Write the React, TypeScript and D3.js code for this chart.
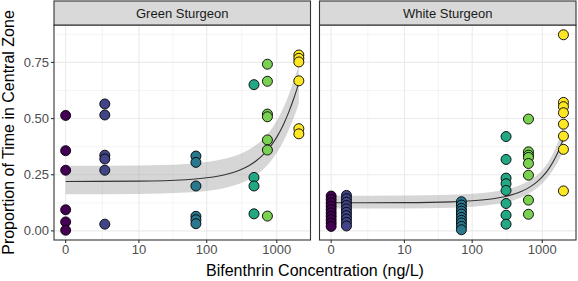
import React from "react";
import * as d3 from "d3";

const panelNames = ["Green Sturgeon", "White Sturgeon"];
const xTickValues = [0, 10, 100, 1000];
const yTickValues = [0, 0.25, 0.5, 0.75];
const yMinorValues = [0.125, 0.375, 0.625, 0.875];

const greenConcentrations = [0, 2.6, 70, 474, 736, 2060];
const greenProportions = [
  [0.514, 0.357, 0.27, 0.094, 0.04, 0.003],
  [0.565, 0.516, 0.337, 0.32, 0.27, 0.03],
  [0.333, 0.305, 0.2, 0.065, 0.05, 0.032],
  [0.651, 0.238, 0.2, 0.076],
  [0.742, 0.666, 0.52, 0.508, 0.405, 0.36, 0.066],
  [0.783, 0.768, 0.752, 0.668, 0.455, 0.432],
];
const whiteConcentrations = [0, 0.65, 70, 305, 636, 2000];
const whiteProportions = [
  [0.155, 0.14, 0.125, 0.11, 0.095, 0.08, 0.065, 0.05, 0.035, 0.02],
  [0.158, 0.143, 0.128, 0.113, 0.098, 0.083, 0.068, 0.053, 0.038, 0.022],
  [0.13, 0.115, 0.1, 0.088, 0.075, 0.06, 0.047, 0.035, 0.02, 0.005],
  [0.42, 0.318, 0.235, 0.21, 0.18, 0.122, 0.07, 0.03],
  [0.498, 0.352, 0.337, 0.327, 0.3, 0.248, 0.137, 0.074],
  [0.873, 0.572, 0.553, 0.526, 0.475, 0.422, 0.363, 0.178],
];

const greenFitConc = [0, 10, 50, 100, 200, 300, 400, 500, 600, 800, 1000, 1250, 1500, 1750, 2000, 2060];
const greenFit = [0.22, 0.2215, 0.228, 0.2363, 0.2536, 0.2716, 0.2904, 0.31, 0.3303, 0.3728, 0.4173, 0.4748, 0.533, 0.5903, 0.6452, 0.6579];
const greenLower = [0.163, 0.1644, 0.1704, 0.178, 0.194, 0.2108, 0.2285, 0.2469, 0.2661, 0.306, 0.3476, 0.4006, 0.4535, 0.5053, 0.5553, 0.567];
const greenUpper = [0.29, 0.2916, 0.2982, 0.3066, 0.3241, 0.3423, 0.3614, 0.3811, 0.4016, 0.4448, 0.4904, 0.55, 0.6108, 0.6701, 0.7259, 0.7386];

const whiteFitConc = [0, 10, 50, 100, 200, 300, 400, 500, 600, 800, 1000, 1250, 1500, 1750, 2000];
const whiteFit = [0.125, 0.1259, 0.1294, 0.1339, 0.1434, 0.1534, 0.164, 0.1752, 0.187, 0.2124, 0.2401, 0.2782, 0.3197, 0.3643, 0.4115];
const whiteLower = [0.0992, 0.1001, 0.1035, 0.108, 0.1173, 0.1273, 0.1378, 0.149, 0.1607, 0.1857, 0.2122, 0.2467, 0.2822, 0.3184, 0.3554];
const whiteUpper = [0.1563, 0.1572, 0.1606, 0.165, 0.1742, 0.1839, 0.1941, 0.205, 0.2165, 0.2417, 0.2705, 0.312, 0.3597, 0.4129, 0.4699];

const W = 578;
const H = 281;
const panelTop = 25;
const panelBottom = 240;
const stripTop = 1;
const panelLefts = [54, 319.5];
const panelWidth = 256.5;
const FONT = "'Liberation Sans', Arial, Helvetica, sans-serif";

const tr = (c: number) => Math.log10(c + 1);

export default function App() {
  const allConc = [...greenConcentrations, ...whiteConcentrations];
  const allProps = [...greenProportions.flat(), ...whiteProportions.flat()];
  const tMax = d3.max(allConc.map(tr)) as number;
  const tMin = 0;
  const xpad = (tMax - tMin) * 0.05;
  const yMaxV = d3.max(allProps) as number;
  const yMinV = d3.min(allProps) as number;
  const ypad = (yMaxV - yMinV) * 0.05;
  const y = d3.scaleLinear().domain([yMinV - ypad, yMaxV + ypad]).range([panelBottom, panelTop]);
  const color = (i: number) => d3.interpolateViridis(i / 5);

  const xTickT = xTickValues.map(tr);
  const xMinorT = xTickT.slice(0, -1).map((t, i) => (t + xTickT[i + 1]) / 2);

  const panels = [
    { conc: greenConcentrations, props: greenProportions, fc: greenFitConc, fit: greenFit, lo: greenLower, hi: greenUpper },
    { conc: whiteConcentrations, props: whiteProportions, fc: whiteFitConc, fit: whiteFit, lo: whiteLower, hi: whiteUpper },
  ];

  return (
    <div style={{ position: "absolute", left: 0, top: 0 }}>
      <svg width={W} height={H} style={{ display: "block", background: "#fff" }} fontFamily={FONT}>
        <rect x={0} y={0} width={W} height={H} fill="#fff" />
        {panels.map((p, pi) => {
          const x0 = panelLefts[pi];
          const x = d3.scaleLinear().domain([tMin - xpad, tMax + xpad]).range([x0, x0 + panelWidth]);
          const area = d3
            .area<number>()
            .x((_, i) => x(tr(p.fc[i])))
            .y0((_, i) => y(p.lo[i]))
            .y1((_, i) => y(p.hi[i]))
            .curve(d3.curveMonotoneX);
          const line = d3
            .line<number>()
            .x((_, i) => x(tr(p.fc[i])))
            .y((d) => y(d))
            .curve(d3.curveMonotoneX);
          const clipId = `clip${pi}`;
          return (
            <g key={pi}>
              <defs>
                <clipPath id={clipId}>
                  <rect x={x0} y={panelTop} width={panelWidth} height={panelBottom - panelTop} />
                </clipPath>
              </defs>
              <rect x={x0} y={panelTop} width={panelWidth} height={panelBottom - panelTop} fill="#fff" />
              {yMinorValues.map((v) => (
                <line key={"ym" + v} x1={x0} x2={x0 + panelWidth} y1={y(v)} y2={y(v)} stroke="#EBEBEB" strokeWidth={0.55} />
              ))}
              {xMinorT.map((t, i) => (
                <line key={"xm" + i} x1={x(t)} x2={x(t)} y1={panelTop} y2={panelBottom} stroke="#EBEBEB" strokeWidth={0.55} />
              ))}
              {yTickValues.map((v) => (
                <line key={"yM" + v} x1={x0} x2={x0 + panelWidth} y1={y(v)} y2={y(v)} stroke="#EBEBEB" strokeWidth={1.1} />
              ))}
              {xTickT.map((t, i) => (
                <line key={"xM" + i} x1={x(t)} x2={x(t)} y1={panelTop} y2={panelBottom} stroke="#EBEBEB" strokeWidth={1.1} />
              ))}
              <g clipPath={`url(#${clipId})`}>
                <path d={area(p.fit) || ""} fill="#999999" fillOpacity={0.4} stroke="none" />
                <path d={line(p.fit) || ""} fill="none" stroke="#333333" strokeWidth={1.1} />
                {p.props.map((vals, gi) =>
                  vals.map((v, k) => (
                    <circle
                      key={gi + "-" + k}
                      cx={x(tr(p.conc[gi]))}
                      cy={y(v)}
                      r={5}
                      fill={color(gi)}
                      stroke="#000"
                      strokeWidth={0.9}
                    />
                  ))
                )}
              </g>
              <rect x={x0} y={panelTop} width={panelWidth} height={panelBottom - panelTop} fill="none" stroke="#333333" strokeWidth={1.1} />
              <rect x={x0} y={stripTop} width={panelWidth} height={panelTop - stripTop} fill="#D9D9D9" stroke="#333333" strokeWidth={1.1} />
              <text x={x0 + panelWidth / 2} y={(stripTop + panelTop) / 2} dy="0.35em" textAnchor="middle" fontSize={13} fill="#1A1A1A">
                {panelNames[pi]}
              </text>
              {xTickT.map((t, i) => (
                <g key={"xt" + i}>
                  <line x1={x(t)} x2={x(t)} y1={panelBottom} y2={panelBottom + 3} stroke="#333333" strokeWidth={1.1} />
                  <text x={x(t)} y={panelBottom + 3 + 2} dy="0.71em" textAnchor="middle" fontSize={13} fill="#4D4D4D">
                    {xTickValues[i]}
                  </text>
                </g>
              ))}
              {pi === 0 &&
                yTickValues.map((v) => (
                  <g key={"yt" + v}>
                    <line x1={x0 - 3} x2={x0} y1={y(v)} y2={y(v)} stroke="#333333" strokeWidth={1.1} />
                    <text x={x0 - 5} y={y(v)} dy="0.35em" textAnchor="end" fontSize={13} fill="#4D4D4D">
                      {v.toFixed(2)}
                    </text>
                  </g>
                ))}
            </g>
          );
        })}
        <text x={(panelLefts[0] + panelLefts[1] + panelWidth) / 2} y={275.5} textAnchor="middle" fontSize={16} fill="#000">
          Bifenthrin Concentration (ng/L)
        </text>
        <text
          transform={`translate(${14},${(panelTop + panelBottom) / 2}) rotate(-90)`}
          textAnchor="middle"
          fontSize={16}
          fill="#000"
        >
          Proportion of Time in Central Zone
        </text>
      </svg>
    </div>
  );
}
